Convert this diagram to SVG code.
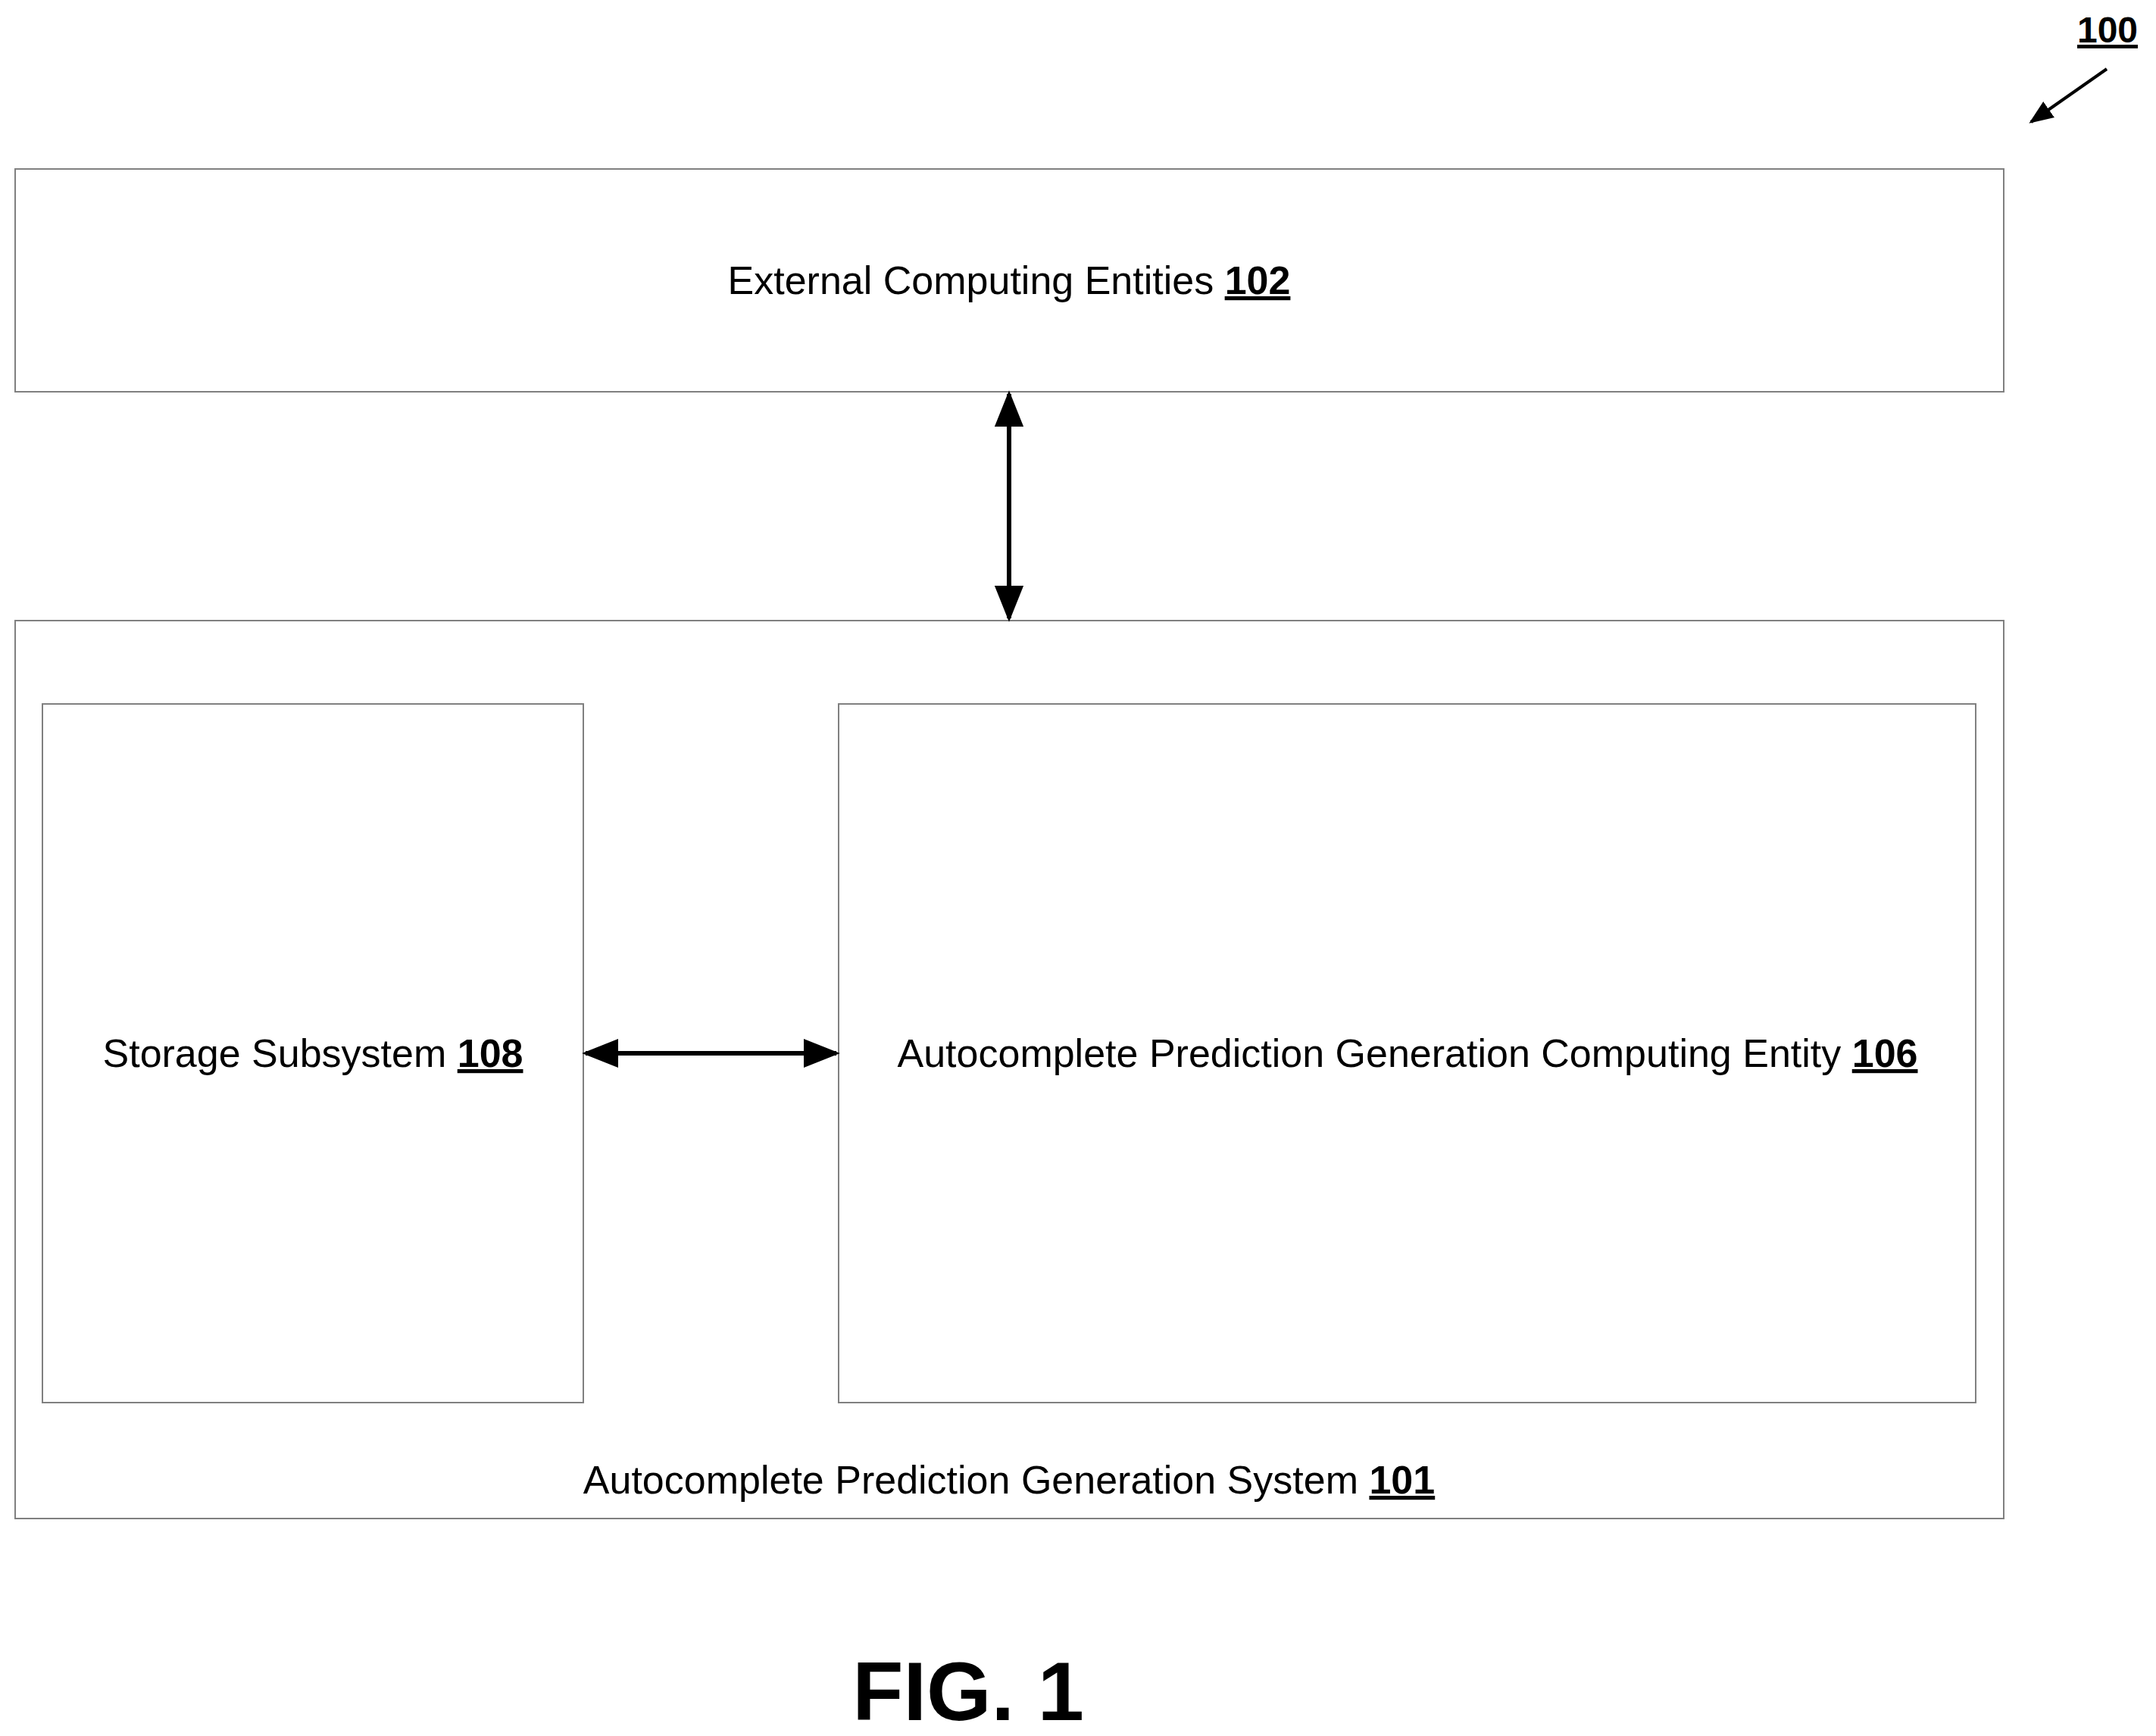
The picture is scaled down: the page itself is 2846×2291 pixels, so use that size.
<svg xmlns="http://www.w3.org/2000/svg" width="2846" height="2291" viewBox="0 0 2846 2291">
<style>
.box{fill:#fff;stroke:#808080;stroke-width:2}
.t{font-family:"Liberation Sans",Arial,sans-serif;font-size:52px;fill:#000;text-anchor:middle}
.n{font-weight:bold;text-decoration:underline}
.c{stroke:#000;stroke-width:6;fill:none}
</style>
<defs>
<marker id="a" viewBox="0 0 10 10" refX="9" refY="5" markerWidth="8" markerHeight="8" orient="auto-start-reverse" markerUnits="strokeWidth"><path d="M0,1 L10,5 L0,9 Z" fill="#000"/></marker>
<marker id="s" viewBox="0 0 10 10" refX="9" refY="5" markerWidth="8" markerHeight="8" orient="auto"><path d="M0,1 L10,5 L0,9 Z" fill="#000"/></marker>
</defs>
<rect width="2846" height="2291" fill="#fff"/>
<g id="n102"><rect class="box" x="20" y="223" width="2625" height="294"/><text class="t" x="1332" y="388">External Computing Entities <tspan class="n">102</tspan></text></g>
<g id="n101"><rect class="box" x="20" y="819" width="2625" height="1185"/><text class="t" x="1332" y="1971">Autocomplete Prediction Generation System <tspan class="n">101</tspan></text></g>
<g id="n108"><rect class="box" x="56" y="929" width="714" height="922"/><text class="t" x="413" y="1408">Storage Subsystem <tspan class="n">108</tspan></text></g>
<g id="n106"><rect class="box" x="1107" y="929" width="1501" height="922"/><text class="t" x="1858" y="1408">Autocomplete Prediction Generation Computing Entity <tspan class="n">106</tspan></text></g>
<g id="connectors">
<line class="c" x1="1332" y1="520" x2="1332" y2="816" marker-start="url(#a)" marker-end="url(#a)"/>
<line class="c" x1="773" y1="1390" x2="1104" y2="1390" marker-start="url(#a)" marker-end="url(#a)"/>
<line x1="2781" y1="91" x2="2681" y2="161" stroke="#000" stroke-width="4" marker-end="url(#s)"/>
</g>
<text class="t n" x="2782" y="56" style="font-size:48px">100</text>
<text x="1278" y="2270" style="font-family:'Liberation Sans',Arial,sans-serif;font-size:110px;font-weight:bold;text-anchor:middle">FIG. 1</text>
</svg>
